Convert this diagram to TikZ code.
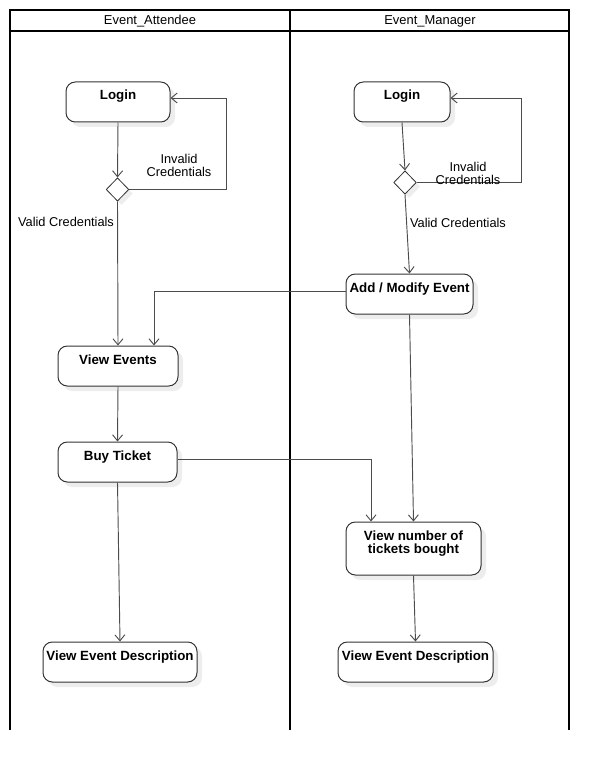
\documentclass[tikz,border=0pt]{standalone}
\usepackage{fontspec}
\setmainfont{Liberation Sans}
\usetikzlibrary{shapes.geometric,shadows,arrows.meta}
\begin{document}
\begin{tikzpicture}[x=0.75pt,y=-0.75pt,
  lane/.style={line width=1.6pt, black},
  act/.style n args={3}{draw=black!80, line width=0.75pt, rounded corners=7pt,
    fill=white, inner sep=0pt, font=\bfseries\fontsize{10}{9.75}\selectfont,
    text height=13.5pt, minimum width=#1, minimum height=#2, text depth=#3,
    drop shadow={shadow xshift=3.75pt, shadow yshift=-3.75pt, fill=black!7, opacity=1}},
  choice/.style={diamond, draw=black!80, line width=0.6pt, fill=white, inner sep=0pt,
    minimum width=17pt, minimum height=17.5pt,
    drop shadow={shadow xshift=3pt, shadow yshift=-3pt, fill=black!7, opacity=1}},
  flow/.style={draw=black!70, line width=0.7pt, -{Straight Barb[length=4.5pt,width=7.5pt]}},
  lbl/.style={font=\fontsize{9.6}{9.75}\selectfont, align=center, inner sep=0pt},
  head/.style={font=\fontsize{9.7}{11}\selectfont, inner sep=0pt, anchor=base}
]
\useasboundingbox (0,0) rectangle (609,770);

% swimlanes
\draw[lane] (10,730) -- (10,10) -- (569,10) -- (569,730);
\draw[lane] (10,31) -- (569,31);
\draw[line width=1.9pt] (290,10) -- (290,730);
\node[head] (hA) at (150,24.5) {Event\_Attendee};
\node[head] (hM) at (430,24.5) {Event\_Manager};

% attendee lane
\node[act={78pt}{30pt}{16.5pt}] (aL) at (118,102) {Login};
\node[choice] (aD) at (117.5,189.5) {};
\node[act={90pt}{30pt}{16.5pt}] (aV) at (118,366) {View Events};
\node[act={89.25pt}{30pt}{16.5pt}] (aB) at (117.5,462) {Buy Ticket};
\node[act={115.5pt}{30pt}{16.5pt}] (aE) at (120,662) {View Event Description};

% manager lane
\node[act={72pt}{30pt}{16.5pt}] (mL) at (402,102) {Login};
\node[choice] (mD) at (405,182.5) {};
\node[act={95.25pt}{30pt}{16.5pt}] (mA) at (409.5,294) {Add / Modify Event};
\node[act={101.25pt}{39.75pt}{26.25pt}] (mN) at (413.5,548.5)
  {\begin{tabular}[t]{@{}c@{}}View number of\\tickets bought\end{tabular}};
\node[act={116.25pt}{30pt}{16.5pt}] (mE) at (415.5,662) {View Event Description};

% bend points
\coordinate (aLoop) at (226,98);
\coordinate (mLoop) at (521,98);
\coordinate (bt) at (371,459);
\coordinate (am) at (154,291);

% attendee flows
\draw[flow] (aL.south) -- (aD.north);
\draw[flow] (aD.east) -| (aLoop) -- (aL.east |- aLoop);
\node[lbl] (aInv) at (179,165) {Invalid\\Credentials};
\draw[flow] (aD.south) -- (aV.north);
\node[lbl] (aVal) at (66,222) {Valid Credentials};
\draw[flow] (aV.south) -- (aB.north);
\draw[flow] (aB.south) -- (aE.north);
\draw[flow] (aB.east |- bt) -- (bt) -- (bt |- mN.north);

% manager flows
\draw[flow] (mL.south) -- (mD.north);
\draw[flow] (mD.east) -| (mLoop) -- (mL.east |- mLoop);
\node[lbl] (mInv) at (468,173) {Invalid\\Credentials};
\draw[flow] (mD.south) -- (mA.north);
\node[lbl] (mVal) at (458,223) {Valid Credentials};
\draw[flow] (mA.west |- am) -- (am) -- (am |- aV.north);
\draw[flow] (mA.south) -- (mN.north);
\draw[flow] (mN.south) -- (mE.north);
\end{tikzpicture}
\end{document}
